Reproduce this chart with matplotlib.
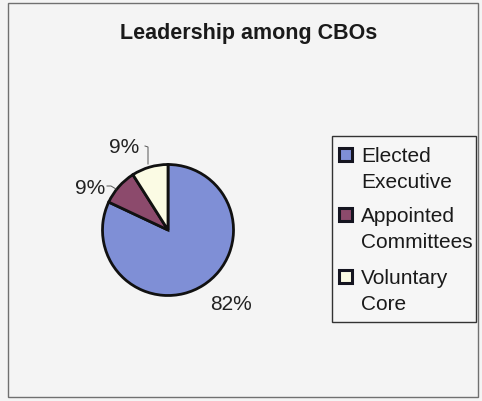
import matplotlib
matplotlib.use("Agg")
import matplotlib.pyplot as plt
from matplotlib.patches import Rectangle

title = "Leadership among CBOs"
categories = ["Elected\nExecutive", "Appointed\nCommittees", "Voluntary\nCore"]
values = [82, 9, 9]
pct_labels = ["82%", "9%", "9%"]
colors = ["#7f8fd6", "#8c4a6c", "#fbfbe4"]

W, H = 482, 402
plt.rcParams["font.family"] = ["Liberation Sans", "DejaVu Sans"]
fig = plt.figure(figsize=(W / 100, H / 100), dpi=100)
fig.patch.set_facecolor("#f4f4f4")

# overlay axes in pixel coordinates (for frame, title, legend)
ov = fig.add_axes([0, 0, 1, 1])
ov.set_xlim(0, W)
ov.set_ylim(H, 0)
ov.axis("off")
ov.patch.set_alpha(0)

ov.add_patch(Rectangle((8, 4), 470, 394, fill=False, edgecolor="#707070", linewidth=1.0))
ov.text(249, 33, title, ha="center", va="center", fontsize=15.5, fontweight="bold", color="#1a1a1a")

# legend (manual)
ov.add_patch(Rectangle((332, 137), 144, 186, facecolor="#f6f6f6", edgecolor="#333333", linewidth=1.0))
tops = [148, 208, 270]
for c, lab, t in zip(colors, categories, tops):
    ov.add_patch(Rectangle((338.5, t + 0.5), 13, 13, facecolor=c, edgecolor="#151520", linewidth=2.2))
    ov.text(361, t - 1, lab, ha="left", va="top", fontsize=15, color="#1a1a1a", linespacing=1.45)

# pie axes: center (168,231) radius 65.5
cx, cy, r = 168, 231, 65.5
ax = fig.add_axes([(cx - r) / W, 1 - (cy + r) / H, 2 * r / W, 2 * r / H])
ax.pie(values, colors=colors, startangle=90, counterclock=False,
       wedgeprops=dict(edgecolor="#111111", linewidth=2.0))
ax.set_xlim(-1, 1)
ax.set_ylim(-1, 1)
ax.set_aspect("auto")
ax.axis("off")

def to_data(px, py):
    return ((px - cx) / r, (cy - py) / r)

label_pos = [(231, 305), (90, 189), (124, 148)]
for lab, (px, py) in zip(pct_labels, label_pos):
    x, y = to_data(px, py)
    ax.text(x, y, lab, ha="center", va="center", fontsize=15, color="#222222", clip_on=False)

# leader lines
p = [to_data(107, 187), to_data(111, 187), to_data(116, 190)]
ax.plot([q[0] for q in p], [q[1] for q in p], color="#555555", lw=0.7, clip_on=False)
p = [to_data(145, 147), to_data(148, 148), to_data(148, 165)]
ax.plot([q[0] for q in p], [q[1] for q in p], color="#555555", lw=0.7, clip_on=False)

fig.savefig("out.png", dpi=100, facecolor=fig.get_facecolor())
